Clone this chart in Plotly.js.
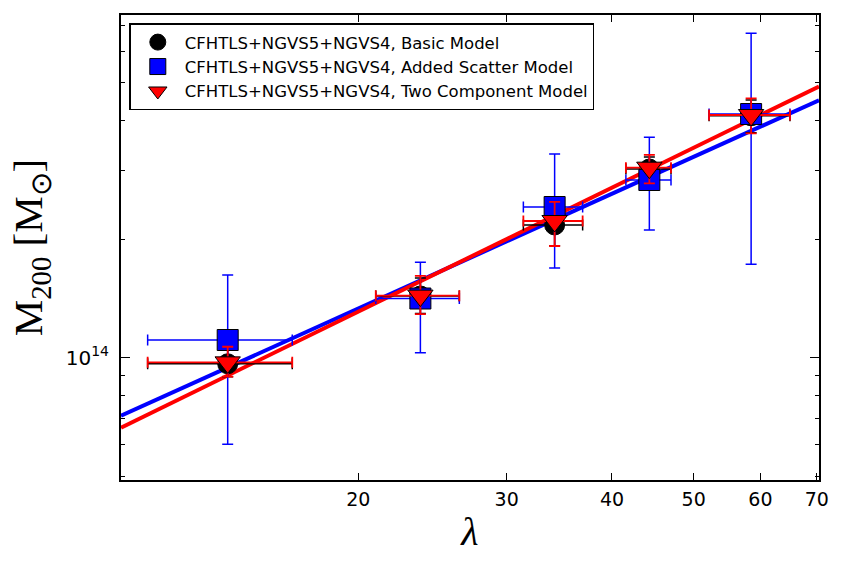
<!DOCTYPE html>
<html>
<head>
<meta charset="utf-8">
<script src="https://cdn.plot.ly/plotly-3.0.1.min.js"></script>
<style>
  html, body { margin: 0; padding: 0; background: #ffffff; }
  #chart { width: 846px; height: 571px; }
</style>
</head>
<body>
<div id="chart"></div>
<script>
// Richness bins (lambda) and their half-widths
const lambdaVals   = [14.0, 23.7, 34.2, 44.3, 58.5];
const lambdaErrLo  = [2.75, 2.72, 2.80, 2.75, 6.35];
const lambdaErrHi  = [2.70, 2.66, 2.72, 2.70, 6.55];

// M200 in units of 1e14 Msun for each model
const basicMass     = [0.965, 1.435, 2.175, 3.018, 4.12];
const basicErrHi    = [0.080, 0.160, 0.250, 0.220, 0.40];
const basicErrLo    = [0.070, 0.140, 0.250, 0.240, 0.39];

const scatterMass   = [1.109, 1.414, 2.416, 2.830, 4.164];
const scatterErrHi  = [0.514, 0.334, 0.879, 0.805, 2.516];
const scatterErrLo  = [0.507, 0.384, 0.725, 0.718, 2.436];

const twoCompMass   = [0.973, 1.438, 2.226, 3.042, 4.140];
const twoCompErrHi  = [0.093, 0.176, 0.263, 0.235, 0.426];
const twoCompErrLo  = [0.078, 0.147, 0.303, 0.266, 0.420];

// Best-fit mass-richness relations, evaluated at the ends of the lambda range
const fitLambda     = [10.46, 70.42];
const fitScatter    = [0.712, 4.515];
const fitTwoComp    = [0.664, 4.893];

// Axis ticks
const xTickVals  = [20, 30, 40, 50, 60, 70];
const xTickText  = ['20', '30', '40', '50', '60', '70'];
const yMinorVals = [0.5, 0.6, 0.7, 0.8, 0.9, 2, 3, 4, 5, 6, 7];

const legendNames = [
  'CFHTLS+NGVS5+NGVS4, Basic Model',
  'CFHTLS+NGVS5+NGVS4, Added Scatter Model',
  'CFHTLS+NGVS5+NGVS4, Two Component Model'
];

const UNIT = 1e14;
const toMass = a => a.map(v => v * UNIT);

function errY(hi, lo, color, thick) {
  return { type: 'data', symmetric: false, array: toMass(hi), arrayminus: toMass(lo),
           color: color, thickness: thick, width: 5.5 };
}
function errX(color, thick) {
  return { type: 'data', symmetric: false, array: lambdaErrHi, arrayminus: lambdaErrLo,
           color: color, thickness: thick, width: 5.5 };
}

const traces = [
  { x: fitLambda, y: toMass(fitScatter), mode: 'lines', showlegend: false,
    line: { color: '#0000ff', width: 4 }, hoverinfo: 'skip' },
  { x: fitLambda, y: toMass(fitTwoComp), mode: 'lines', showlegend: false,
    line: { color: '#ff0000', width: 4 }, hoverinfo: 'skip' },
  { name: legendNames[0], legendgroup: 'a', x: lambdaVals, y: toMass(basicMass), mode: 'markers',
    marker: { symbol: 'circle', size: 20, color: '#000000', line: { color: '#000000', width: 1 } },
    error_y: errY(basicErrHi, basicErrLo, '#000000', 1.5), error_x: errX('#000000', 1.5) },
  { name: legendNames[1], legendgroup: 'b', x: lambdaVals, y: toMass(scatterMass), mode: 'markers',
    marker: { symbol: 'square', size: 21, color: '#0000ff', line: { color: '#000000', width: 1 } },
    error_y: errY(scatterErrHi, scatterErrLo, '#0000ff', 1.5), error_x: errX('#0000ff', 1.5) },
  { name: legendNames[2], legendgroup: 'c', x: lambdaVals, y: toMass(twoCompMass), mode: 'markers',
    marker: { symbol: 'triangle-down', size: 22, color: '#ff0000', line: { color: '#000000', width: 1 } },
    error_y: errY(twoCompErrHi, twoCompErrLo, '#ff0000', 1.8), error_x: errX('#ff0000', 1.8) }
];

const layout = {
  width: 846, height: 571,
  margin: { l: 121, r: 27, t: 15, b: 91 },
  paper_bgcolor: '#ffffff', plot_bgcolor: '#ffffff',
  showlegend: true,
  font: { family: 'DejaVu Sans', color: '#000000' },
  xaxis: {
    type: 'log', range: [Math.log10(10.46), Math.log10(70.42)],
    tickmode: 'array', tickvals: xTickVals, ticktext: xTickText,
    ticks: 'inside', ticklen: 7, tickwidth: 1, tickcolor: '#000000',
    showline: true, linewidth: 2, linecolor: '#000000', mirror: 'allticks',
    showgrid: false, zeroline: false,
    tickfont: { family: 'DejaVu Sans', size: 19, color: '#000000' },
    ticklabelstandoff: 1,
    title: { text: 'λ', standoff: 8,
             font: { family: 'Liberation Serif', size: 40, style: 'italic', color: '#000000' } }
  },
  yaxis: {
    type: 'log', range: [13.689, 14.8713],
    tickmode: 'array', tickvals: [1e14], ticktext: ['10<sup>14</sup>'],
    ticks: 'inside', ticklen: 9, tickwidth: 1, tickcolor: '#000000',
    minor: { tickmode: 'array', tickvals: toMass(yMinorVals), ticks: 'inside', ticklen: 4,
             tickwidth: 1, tickcolor: '#000000', showgrid: false },
    showline: true, linewidth: 2, linecolor: '#000000', mirror: 'allticks',
    showgrid: false, zeroline: false,
    tickfont: { family: 'DejaVu Sans', size: 20, color: '#000000' },
    ticklabelstandoff: 6,
    title: { text: 'M<sub>200</sub> [M<sub>⊙</sub>]', standoff: 10,
             font: { family: 'Liberation Serif', size: 41, color: '#000000' } }
  },
  legend: {
    x: 0.0119, y: 0.982, xanchor: 'left', yanchor: 'top',
    bgcolor: '#ffffff', bordercolor: '#000000', borderwidth: 1.5,
    font: { family: 'DejaVu Sans', size: 16.5, color: '#000000' },
    itemwidth: 44, tracegroupgap: 4, traceorder: 'normal'
  }
};

Plotly.newPlot('chart', traces, layout, { staticPlot: true, displayModeBar: false });
</script>
</body>
</html>
